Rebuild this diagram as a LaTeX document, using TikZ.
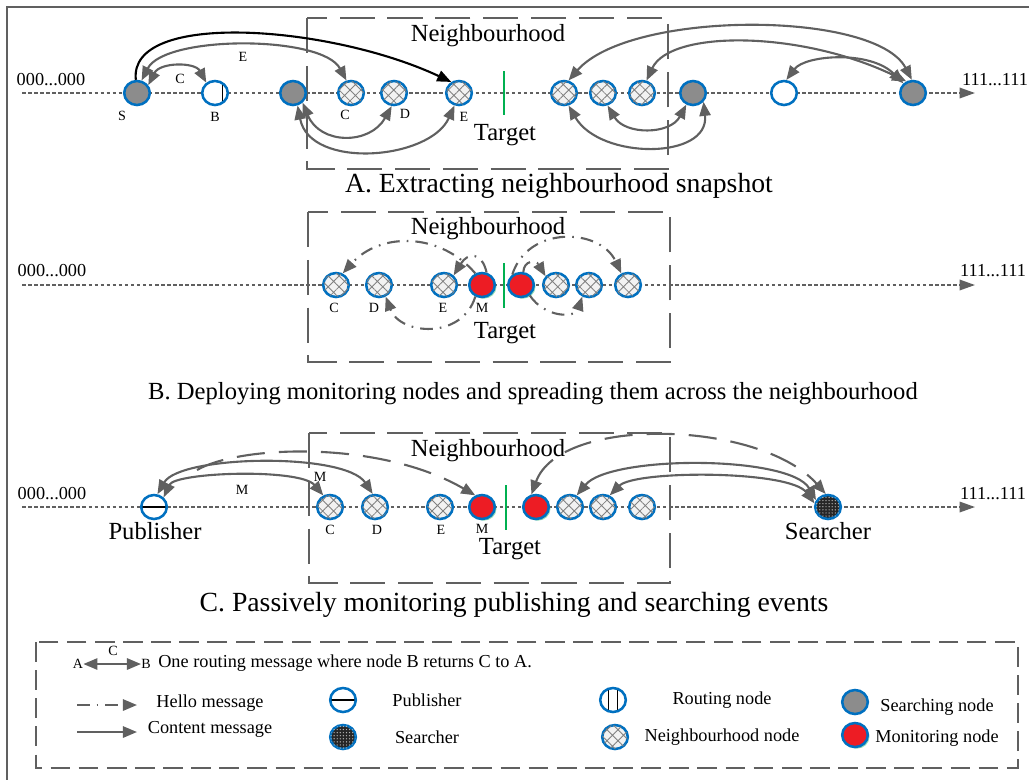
\documentclass[tikz,border=0pt]{standalone}
\usepackage{fontspec}
\setmainfont{Liberation Serif}
\usetikzlibrary{shapes.geometric,arrows.meta,patterns.meta,shadows,positioning}

\definecolor{NodeBlue}{RGB}{0,112,192}
\definecolor{LineGray}{RGB}{96,96,96}
\definecolor{SearchGray}{RGB}{140,140,140}
\definecolor{MonRed}{RGB}{237,28,36}
\definecolor{TargetGreen}{RGB}{0,176,80}

\newcommand{\bigtext}{\fontsize{17.5}{20}\selectfont}
\newcommand{\captext}{\fontsize{19.7}{22}\selectfont}
\newcommand{\capsmall}{\fontsize{17.5}{20}\selectfont}
\newcommand{\midtext}{\fontsize{13}{15}\selectfont}
\newcommand{\tagtext}{\fontsize{10}{12}\selectfont}

\begin{document}
\begin{tikzpicture}[x=0.025cm, y=-0.025cm, >={Triangle[length=10pt,width=8pt]}]
		\tikzstyle{Peer}     = [ellipse, draw=NodeBlue, line width=1.8pt, fill=white, minimum width=0.64cm, minimum height=0.6cm, inner sep=0pt]
		\tikzstyle{Search}   = [Peer, fill=SearchGray]
		\tikzstyle{Route}    = [Peer, path picture={\draw[black, line width=0.8pt] ([xshift=0.18cm]path picture bounding box.north) -- ([xshift=0.18cm]path picture bounding box.south);}]
		\tikzstyle{RouteTwo} = [Peer, path picture={\draw[black, line width=0.8pt] ([xshift=-0.12cm]path picture bounding box.north) -- ([xshift=-0.12cm]path picture bounding box.south) ([xshift=0.12cm]path picture bounding box.north) -- ([xshift=0.12cm]path picture bounding box.south);}]
		\tikzstyle{Neigh}    = [Peer, fill=gray!10, postaction={pattern={Hatch[angle=45,distance=5.5pt,line width=0.6pt]}, pattern color=gray}]
		\tikzstyle{Monitor}  = [Peer, fill=MonRed, drop shadow={shadow xshift=1.2pt, shadow yshift=-1.2pt, fill=TargetGreen!45, opacity=0.9}]
		\tikzstyle{Pub}      = [Peer, path picture={\draw[black, line width=0.8pt] (path picture bounding box.west) -- (path picture bounding box.east);}]
		\tikzstyle{Seeker}   = [Peer, fill=black!85, postaction={pattern={Dots[distance=2.2pt,radius=0.5pt]}, pattern color=white!70!black}]
		\tikzstyle{Tag}      = [font=\tagtext, inner sep=0pt]
		\tikzstyle{Big}      = [font=\bigtext, inner sep=0pt]
		\tikzstyle{Cap}      = [font=\captext, inner sep=0pt]
		\tikzstyle{Mid}      = [font=\midtext, inner sep=0pt]
		\tikzstyle{Ring}     = [LineGray, line width=1.2pt, dash pattern=on 2.5pt off 1.8pt, -{Triangle[length=11pt,width=7.5pt]}]
		\tikzstyle{Msg}      = [LineGray, line width=1.5pt, <->]
		\tikzstyle{Hello}    = [LineGray, line width=1.5pt, dash pattern=on 9pt off 5pt on 1.2pt off 5pt, ->]
		\tikzstyle{Long}     = [LineGray, line width=1.5pt, dash pattern=on 20pt off 10pt]
		\tikzstyle{Hood}     = [draw=LineGray, line width=1.5pt, dash pattern=on 25pt off 9pt]
		\tikzstyle{Key}      = [draw=LineGray, line width=1.5pt, dash pattern=on 14pt off 6pt]
		\tikzstyle{Tgt}      = [TargetGreen, line width=1.5pt]

		\useasboundingbox (0,0) rectangle (1029,779);
		\draw [LineGray, line width=2pt] (7,7) rectangle (1045,795);

		% A. extracting the snapshot
		\node (aL) at (51,80) [Mid] {000...000};
		\node (aR) at (995,80) [Mid] {111...111};
		\coordinate (aS0) at (22,93);
		\coordinate (aS1) at (975,93);
		\draw [Ring] (aS0) -- (aS1);
		\draw [Hood] (307,18) rectangle (668,169);
		\node (aHood) at (488,36) [Big] {Neighbourhood};
		\node (aTgt) at (505,135) [Big] {Target};
		\draw [Tgt] (504,71) -- (504,115);
		\node (aCap) at (559,186) [Cap] {A. Extracting neighbourhood snapshot};

		\node (a1) at (137,93) [Search] {};
		\node (a2) at (215,93) [Route] {};
		\node (a3) at (293,93) [Search] {};
		\node (a4) at (351,93) [Neigh] {};
		\node (a5) at (394,93) [Neigh] {};
		\node (a6) at (459,93) [Neigh] {};
		\node (a7) at (564,93) [Neigh] {};
		\node (a8) at (603,93) [Neigh] {};
		\node (a9) at (642,93) [Neigh] {};
		\node (a10) at (693,93) [Search] {};
		\node (a11) at (784,93) [Peer] {};
		\node (a12) at (913,93) [Search] {};

		\node (a1t) at (122,116) [Tag] {S};
		\node (a2t) at (215,117) [Tag] {B};
		\node (a4t) at (345,115) [Tag] {C};
		\node (a5t) at (405,114) [Tag] {D};
		\node (a6t) at (464,117) [Tag] {E};

		\draw [Msg, -> , black] (a1.95) .. controls (128,10) and (330,25) .. (a6.125);
		\draw [Msg] (a1.70) .. controls (165,35) and (322,35) .. (a4.110);
		\draw [Msg] (a1.35) .. controls (160,62) and (195,62) .. (a2.130);
		\draw [Msg] (a3.-45) .. controls (320,145) and (370,145) .. (a5.-100);
		\draw [Msg] (a3.-70) .. controls (310,170) and (430,160) .. (a6.-110);
		\draw [Msg] (a7.70) .. controls (630,10) and (875,10) .. (a12.95);
		\draw [Msg] (a9.70) .. controls (670,30) and (800,30) .. (a12.120);
		\draw [Msg] (a11.80) .. controls (805,55) and (870,50) .. (a12.135);
		\draw [Msg] (a8.-70) .. controls (625,135) and (670,135) .. (a10.-120);
		\draw [Msg] (a7.-70) .. controls (600,160) and (710,160) .. (a10.-40);
		\node (aEt) at (243,57) [Tag] {E};
		\node (aCt) at (180,79) [Tag] {C};

		% B. deploying monitors
		\node (bL) at (52,271) [Mid] {000...000};
		\node (bR) at (993,271) [Mid] {111...111};
		\coordinate (bS0) at (22,285);
		\coordinate (bS1) at (975,285);
		\draw [Ring] (bS0) -- (bS1);
		\draw [Hood] (308,212) rectangle (670,362);
		\node (bHood) at (488,229) [Big] {Neighbourhood};
		\node (bTgt) at (505,333) [Big] {Target};
		\draw [Tgt] (504,263) -- (504,308);
		\node (bCap) at (533,394) [font=\capsmall, inner sep=0pt] {B. Deploying monitoring nodes and spreading them across the neighbourhood};

		\node (b1) at (336,285) [Neigh] {};
		\node (b2) at (379,285) [Neigh] {};
		\node (b3) at (444,285) [Neigh] {};
		\node (b4) at (482,285) [Monitor] {};
		\node (b5) at (521,285) [Monitor] {};
		\node (b6) at (556,285) [Neigh] {};
		\node (b7) at (589,285) [Neigh] {};
		\node (b8) at (628,285) [Neigh] {};

		\node (b1t) at (334,308) [Tag] {C};
		\node (b2t) at (374,308) [Tag] {D};
		\node (b3t) at (443,308) [Tag] {E};
		\node (b4t) at (482,308) [Tag] {M};

		\draw [Hello] (b4.120) .. controls (440,232) and (380,232) .. (b1.60);
		\draw [Hello] (b4.70) .. controls (482,252) and (468,252) .. (b3.45);
		\draw [Hello] (b4.-120) .. controls (462,340) and (400,335) .. (b2.-60);
		\draw [Hello] (b5.130) .. controls (528,225) and (600,228) .. (b8.120);
		\draw [Hello] (b5.80) .. controls (524,260) and (536,260) .. (b6.140);
		\draw [Hello] (b5.-50) .. controls (545,318) and (575,318) .. (b7.-120);

		% C. passive monitoring
		\node (cL) at (52,494) [Mid] {000...000};
		\node (cR) at (993,494) [Mid] {111...111};
		\coordinate (cS0) at (22,507);
		\coordinate (cS1) at (975,507);
		\draw [Ring] (cS0) -- (cS1);
		\draw [Hood] (309,433) rectangle (670,583);
		\node (cHood) at (488,451) [Big] {Neighbourhood};
		\node (cTgt) at (510,549) [Big] {Target};
		\draw [Tgt] (506,485) -- (506,530);
		\node (cCap) at (514,605) [Cap] {C. Passively monitoring publishing and searching events};

		\node (c1) at (154,507) [Pub] {};
		\node (c2) at (330,507) [Neigh] {};
		\node (c3) at (375,507) [Neigh] {};
		\node (c4) at (440,507) [Neigh] {};
		\node (c5) at (482,507) [Monitor] {};
		\node (c6) at (536,507) [Monitor] {};
		\node (c7) at (570,507) [Neigh] {};
		\node (c8) at (603,507) [Neigh] {};
		\node (c9) at (642,507) [Neigh] {};
		\node (c10) at (828,507) [Seeker] {};

		\node (c1t) at (155,531) [Big] {Publisher};
		\node (c10t) at (828,531) [Big] {Searcher};
		\node (c2t) at (330,530) [Tag] {C};
		\node (c3t) at (377,530) [Tag] {D};
		\node (c4t) at (441,530) [Tag] {E};
		\node (c5t) at (482,529) [Tag] {M};

		\coordinate (c1x) at (197,470);
		\draw [Long, ->] (c1x) .. controls (240,445) and (380,440) .. (c5.120);
		\draw [Long, <->] (c6.110) .. controls (560,415) and (760,420) .. (c10.100);
		\draw [Msg] (c1.45) .. controls (175,472) and (300,468) .. (c2.120);
		\draw [Msg] (c1.75) .. controls (180,455) and (345,452) .. (c3.100);
		\draw [Msg] (c7.60) .. controls (610,455) and (790,455) .. (c10.150);
		\draw [Msg] (c8.60) .. controls (635,470) and (790,470) .. (c10.165);
		\node (cM1) at (242,490) [Tag] {M};
		\node (cM2) at (320,477) [Tag] {M};

		% legend
		\draw [Key] (36,642) rectangle (1018,768);
		\node (kA) at (78,664) [Tag] {A};
		\node (kB) at (146,664) [Tag] {B};
		\node (kC) at (113,651) [Tag] {C};
		\draw [Msg] (kA.east) -- (kB.west);
		\node (kRt) at (158,663) [Mid, anchor=west] {One routing message where node B returns C to A.};

		\coordinate (kH0) at (77,705);
		\coordinate (kH1) at (137,705);
		\draw [Hello] (kH0) -- (kH1);
		\node (kHt) at (210,703) [Mid] {Hello message};
		\coordinate (kC0) at (77,732);
		\coordinate (kC1) at (137,732);
		\draw [Msg, ->] (kC0) -- (kC1);
		\node (kCt) at (210,729) [Mid] {Content message};

		\node (kPub) at (343,700) [Pub] {};
		\node (kPubt) at (427,700) [Mid] {Publisher};
		\node (kSeek) at (343,737) [Seeker] {};
		\node (kSeekt) at (427,737) [Mid] {Searcher};
		\node (kRoute) at (613,700) [RouteTwo] {};
		\node (kRoutet) at (722,700) [Mid] {Routing node};
		\node (kNeigh) at (615,737) [Neigh] {};
		\node (kNeight) at (722,737) [Mid] {Neighbourhood node};
		\node (kSearch) at (855,702) [Search] {};
		\node (kSearcht) at (937,707) [Mid] {Searching node};
		\node (kMon) at (855,735) [Monitor] {};
		\node (kMont) at (937,738) [Mid] {Monitoring node};
	\end{tikzpicture}
\end{document}
